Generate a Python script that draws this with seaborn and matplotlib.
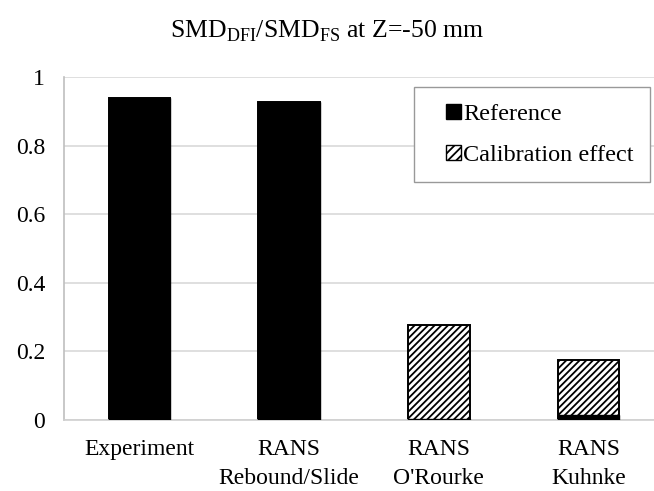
import pandas as pd
import seaborn as sns
import matplotlib.pyplot as plt
from matplotlib.patches import Patch, Rectangle
from matplotlib.legend_handler import HandlerPatch
from matplotlib.ticker import FuncFormatter

# values
cases = ["Experiment", "RANS\nRebound/Slide", "RANS\nO'Rourke", "RANS\nKuhnke"]
reference = [0.938, 0.926, 0.004, 0.015]
calibration = [0.0, 0.0, 0.272, 0.160]
y_ticks = [0, 0.2, 0.4, 0.6, 0.8, 1]

df = pd.DataFrame({"case": cases, "reference": reference, "calibration": calibration})
df["total"] = df["reference"] + df["calibration"]

sns.set_style("white")
plt.rcParams["font.family"] = ["Liberation Serif", "DejaVu Serif"]
plt.rcParams["mathtext.fontset"] = "custom"
plt.rcParams["mathtext.rm"] = "Liberation Serif"
plt.rcParams["hatch.linewidth"] = 1.3

fig = plt.figure(figsize=(6.54, 4.91), dpi=100)
ax = fig.add_axes([0.0986, 0.1446, 0.9014, 0.6985])

# stacked: hatched total first, black reference drawn over it from zero
sns.barplot(data=df, x="case", y="total", color="white", edgecolor="black",
            linewidth=1.4, hatch="/////", width=0.41, ax=ax, zorder=2)
sns.barplot(data=df, x="case", y="reference", color="black", edgecolor="black",
            linewidth=1.0, width=0.41, ax=ax, zorder=3)

ax.set_xlim(-0.5, 3.437)
ax.set_ylim(0, 1)
ax.set_yticks(y_ticks)
ax.yaxis.set_major_formatter(FuncFormatter(lambda v, p: f"{v:g}"))
ax.grid(axis="y", color="#d9d9d9", linewidth=1.2, zorder=0)
ax.set_axisbelow(True)
ax.set_xlabel("")
ax.set_ylabel("")
for s in ["top", "right"]:
    ax.spines[s].set_visible(False)
ax.spines["left"].set_color("#bfbfbf")
ax.spines["bottom"].set_color("#d0d0d0")
ax.spines["left"].set_linewidth(1.2)
ax.spines["bottom"].set_linewidth(1.2)
ax.tick_params(axis="y", length=0, pad=14, labelsize=17, colors="black")
ax.tick_params(axis="x", length=0, pad=14, labelsize=17, colors="black")
for lab in ax.get_xticklabels():
    lab.set_linespacing(1.45)

fig.text(0.5, 0.936, r"SMD$_{\mathrm{DFI}}$/SMD$_{\mathrm{FS}}$ at Z=-50 mm",
         ha="center", va="center", fontsize=18.5, color="black")


def square(legend, orig_handle, xdescent, ydescent, width, height, fontsize):
    s = 10.5
    return Rectangle((width - s - xdescent, (height - s) / 2 - ydescent), s, s)


handles = [Patch(facecolor="black", edgecolor="black", label="Reference"),
           Patch(facecolor="white", edgecolor="black", hatch="////", label="Calibration effect")]
leg = ax.legend(handles=handles, loc="upper right", bbox_to_anchor=(0.993, 0.971),
                borderaxespad=0, fontsize=17.5, frameon=True, fancybox=False,
                edgecolor="#999999", framealpha=1, handlelength=1.3, handleheight=0.7,
                handletextpad=0.1, labelspacing=0.8, borderpad=0.65,
                handler_map={Patch: HandlerPatch(patch_func=square)})
leg.get_frame().set_linewidth(1.0)
for t in leg.get_texts():
    t.set_color("black")

fig.savefig("out.png", dpi=100)
